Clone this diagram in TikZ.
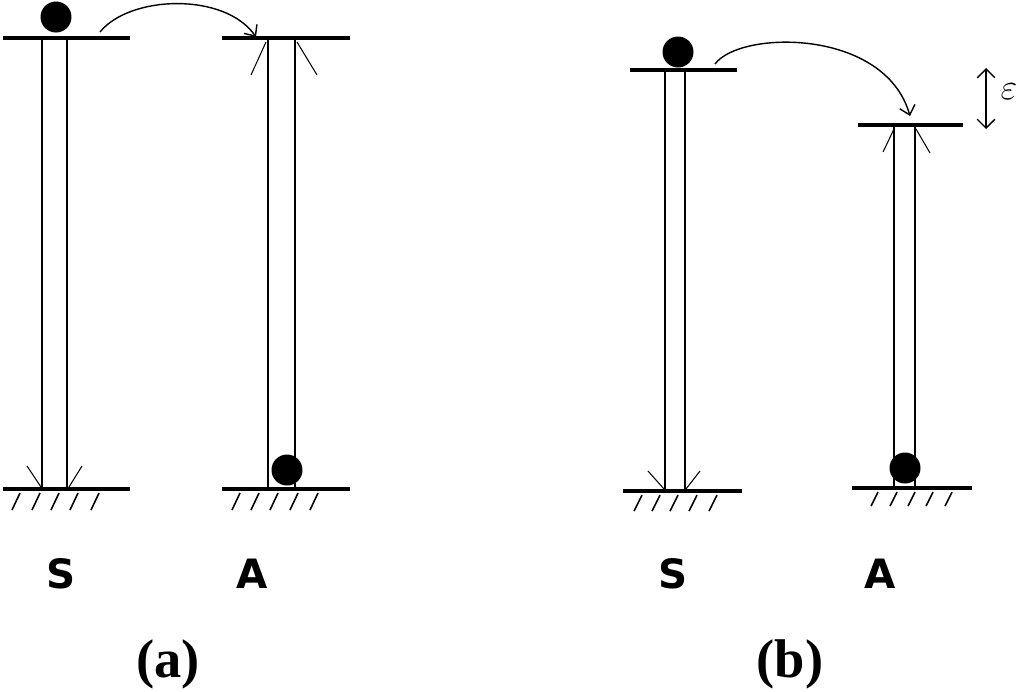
\documentclass[tikz,border=0pt]{standalone}
\usepackage{fontspec}
\setmainfont{Liberation Serif}
\setsansfont{DejaVu Sans}
\usetikzlibrary{arrows.meta}

\begin{document}
\begin{tikzpicture}[x=0.02cm, y=-0.02cm,
  bar/.style={line width=2.3pt},
  tubeL/.style={line width=1.4pt},
  tubeR/.style={line width=0.9pt},
  wing/.style={line width=0.6pt},
  hatch/.style={line width=0.9pt},
  ball/.style={circle, fill=black, minimum size=6.2mm, inner sep=0pt},
  jump/.style={line width=0.8pt, -{Straight Barb[length=5pt,width=9pt]}},
  gap/.style={line width=0.8pt, {Straight Barb[length=5pt,width=10pt]}-{Straight Barb[length=5pt,width=10pt]}},
  lbl/.style={font=\sffamily\bfseries\fontsize{23}{23}\selectfont},
  panel/.style={font=\bfseries\fontsize{31}{31}\selectfont}]
  \useasboundingbox (0,0) rectangle (1024,691);

  % (a) equal levels
  \draw[bar] (3,38) -- (130,38);
  \draw[tubeL] (42,40) -- (42,488);
  \draw[tubeR] (67,40) -- (67,488);
  \draw[bar] (3,489) -- (130,489);
  \draw[wing] (27,466) -- (41,487);
  \draw[wing] (82,466) -- (69,487);
  \foreach \x in {20,40,59,78,99} \draw[hatch] (\x,493) -- ++(-8,17);
  \node[ball] (ballSa) at (56,17) {};

  \draw[bar] (222,38) -- (350,38);
  \draw[tubeL] (268,40) -- (268,488);
  \draw[tubeR] (295,40) -- (295,488);
  \draw[bar] (222,489) -- (350,489);
  \draw[wing] (251,75) -- (266,42);
  \draw[wing] (317,75) -- (297,42);
  \foreach \x in {240,259,278,298,318} \draw[hatch] (\x,493) -- ++(-8,17);
  \node[ball] (ballAa) at (287,470) {};

  \coordinate (fromA) at (100,32);
  \coordinate (toA) at (256,37);
  \draw[jump] (fromA) .. controls (130,-5) and (225,-8) .. (toA);

  \node[lbl] (Sa) at (61,574) {S};
  \node[lbl] (Aa) at (252,574) {A};
  \node[panel] (capa) at (168,664) {(a)};

  % (b) shifted levels
  \draw[bar] (630,70) -- (737,70);
  \draw[tubeL] (665,72) -- (665,490);
  \draw[tubeR] (685,72) -- (685,490);
  \draw[bar] (623,491) -- (742,491);
  \draw[wing] (648,471) -- (664,489);
  \draw[wing] (700,471) -- (686,489);
  \foreach \x in {642,660,678,697,717} \draw[hatch] (\x,495) -- ++(-8,16);
  \node[ball] (ballSb) at (678,52) {};

  \draw[bar] (858,125) -- (963,125);
  \draw[tubeL] (894,127) -- (894,488);
  \draw[tubeR] (915,127) -- (915,488);
  \draw[bar] (852,488) -- (972,488);
  \draw[wing] (883,152) -- (894,129);
  \draw[wing] (930,153) -- (916,129);
  \foreach \x in {878,897,915,933,952} \draw[hatch] (\x,492) -- ++(-7,14);
  \node[ball] (ballAb) at (905,468) {};

  \coordinate (fromB) at (715,64);
  \coordinate (toB) at (910,116);
  \draw[jump] (fromB) .. controls (740,30) and (885,28) .. (toB);

  \coordinate (epsTop) at (986,68);
  \coordinate (epsBot) at (986,129);
  \draw[gap] (epsTop) -- (epsBot);
  \node (eps) at (1009,92) {\fontsize{22}{22}\selectfont$\varepsilon$};

  \node[lbl] (Sb) at (673,574) {S};
  \node[lbl] (Ab) at (880,574) {A};
  \node[panel] (capb) at (790,664) {(b)};
\end{tikzpicture}
\end{document}
